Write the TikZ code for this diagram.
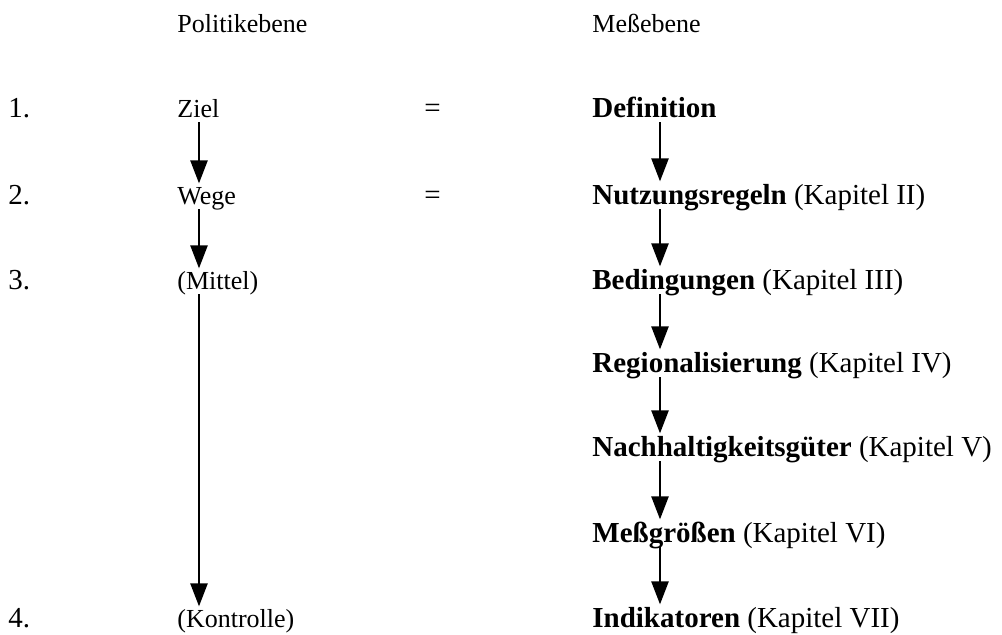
\documentclass[tikz,border=0pt]{standalone}
\usepackage{fontspec}
\setmainfont{Liberation Serif}
\usepackage{tikz}
\usetikzlibrary{positioning}
\usetikzlibrary{arrows.meta}

\begin{document}
\begin{tikzpicture}[x=0.5pt, y=-0.5pt,
    every node/.style={anchor=base west, inner xsep=0pt, inner ysep=2pt, text depth=0pt},
    klein/.style={font=\fontsize{13}{15}\selectfont, text height=8.6pt},
    gross/.style={font=\fontsize{14.5}{17}\selectfont, text height=9.6pt},
    pfeil/.style={-{Triangle[width=8.5pt, length=11.5pt]}, line width=1.2pt}]
            \useasboundingbox (0,0) rectangle (1002,635);
            % Kopf
            \node[klein] (politik) at (177,33) {Politikebene};
            \node[klein] (messebene) at (592,33) {Meßebene};

            % Nummern
            \node[gross] (n1) at (8,118) {1.};
            \node[gross] (n2) at (8,205) {2.};
            \node[gross] (n3) at (8,290) {3.};
            \node[gross] (n4) at (8,628) {4.};

            % Politikebene
            \node[klein] (ziel) at (177,118) {Ziel};
            \node[klein] (wege) at (177,205) {Wege};
            \node[klein] (mittel) at (177,290) {(Mittel)};
            \node[klein] (kontrolle) at (177,628) {(Kontrolle)};
            \node[gross] (gl1) at (424,118) {=};
            \node[gross] (gl2) at (424,205) {=};

            % Messebene
            \node[gross] (def) at (592,118) {\textbf{Definition}};
            \node[gross] (nutz) at (592,205) {\textbf{Nutzungsregeln} (Kapitel II)};
            \node[gross] (bed) at (592,290) {\textbf{Bedingungen} (Kapitel III)};
            \node[gross] (reg) at (592,373) {\textbf{Regionalisierung} (Kapitel IV)};
            \node[gross] (nach) at (592,457) {\textbf{Nachhaltigkeitsgüter} (Kapitel V)};
            \node[gross] (mess) at (592,543) {\textbf{Meßgrößen} (Kapitel VI)};
            \node[gross] (ind) at (592,628) {\textbf{Indikatoren} (Kapitel VII)};

            \coordinate (lx) at (199,0);
            \coordinate (rx) at (660,0);

            % Pfeile
            \draw[pfeil] (ziel.south -| lx) -- (wege.north -| lx);
            \draw[pfeil] (wege.south -| lx) -- (mittel.north -| lx);
            \draw[pfeil] (mittel.south -| lx) -- (kontrolle.north -| lx);
            \draw[pfeil] (def.south -| rx) -- (nutz.north -| rx);
            \draw[pfeil] (nutz.south -| rx) -- (bed.north -| rx);
            \draw[pfeil] (bed.south -| rx) -- (reg.north -| rx);
            \draw[pfeil] (reg.south -| rx) -- (nach.north -| rx);
            \draw[pfeil] (nach.south -| rx) -- (mess.north -| rx);
            \draw[pfeil] (mess.south -| rx) -- (ind.north -| rx);
\end{tikzpicture}
\end{document}
